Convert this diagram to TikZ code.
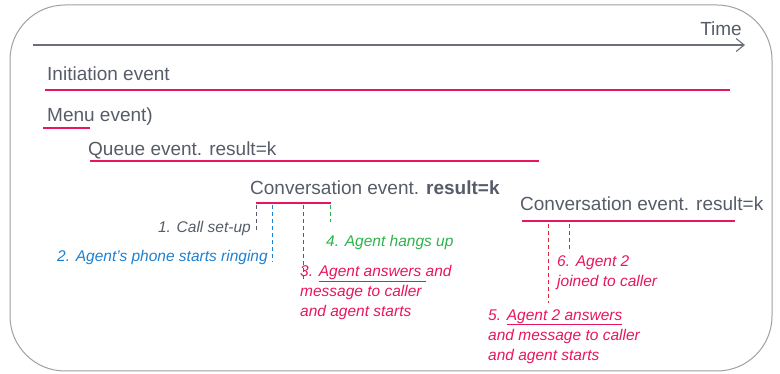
\documentclass[tikz,border=0pt]{standalone}
\usepackage{fontspec}
\setmainfont{Liberation Sans}
\usetikzlibrary{arrows.meta}
\definecolor{txtgray}{HTML}{565C68}
\definecolor{pinkc}{HTML}{E8175D}
\definecolor{bluec}{HTML}{1F80D0}
\definecolor{greenc}{HTML}{2DB34A}
\definecolor{redc}{HTML}{E2203F}
\definecolor{framec}{HTML}{A0A0A0}
\definecolor{axisc}{HTML}{6B6F78}
\begin{document}
\begin{tikzpicture}[x=1pt,y=-1pt,
  lbl/.style={anchor=west, inner sep=0pt, text=txtgray, font=\fontsize{19}{22}\selectfont},
  note/.style={inner sep=0pt, align=left, font=\fontsize{15.5}{20}\selectfont\itshape},
  evline/.style={draw=pinkc, line width=2pt},
  tick/.style={dash pattern=on 4pt off 3pt, line width=0.9pt}]
\useasboundingbox (0,0) rectangle (780,374);
\draw[draw=framec, line width=1pt, rounded corners=55pt] (10,5) rectangle (772,371);
% time axis
\coordinate (ta) at (33,45);
\coordinate (tb) at (745,45);
\draw[draw=axisc, line width=1.1pt, -{Straight Barb[length=8pt,width=13pt]}] (ta) -- (tb);
\node[lbl, anchor=east] (time) at (742,29) {Time};
% events
\node[lbl] (init) at (47,74) {Initiation event};
\coordinate (i0) at (45,90); \coordinate (i1) at (730,90);
\draw[evline] (i0) -- (i1);
\node[lbl] (menu) at (47,117) {Menu event)};
\coordinate (m0) at (43,128); \coordinate (m1) at (90,128);
\draw[evline] (m0) -- (m1);
\node[lbl] (queue) at (88,150) {Queue event. result=k};
\coordinate (q0) at (90,161); \coordinate (q1) at (539,161);
\draw[evline] (q0) -- (q1);
\node[lbl] (conv1) at (250,188) {Conversation event. \textbf{result=k}};
\coordinate (c0) at (256,203); \coordinate (c1) at (331,203);
\draw[evline] (c0) -- (c1);
\node[lbl] (conv2) at (520,204) {Conversation event. result=k};
\coordinate (d0) at (522,221); \coordinate (d1) at (735,221);
\draw[evline] (d0) -- (d1);
% ticks of first conversation
\coordinate (g0) at (256,205); \coordinate (g1) at (256,232);
\draw[tick, draw=txtgray] (g0) -- (g1);
\coordinate (b0) at (272,205); \coordinate (b1) at (272,262);
\draw[tick, draw=bluec] (b0) -- (b1);
\coordinate (r0) at (303,205); \coordinate (r1) at (303,282);
\draw[tick, draw=redc] (r0) -- (r1);
\coordinate (e0) at (330,205); \coordinate (e1) at (330,222);
\draw[tick, draw=greenc] (e0) -- (e1);
% ticks of second conversation
\coordinate (s0) at (548,224); \coordinate (s1) at (548,303);
\draw[tick, draw=redc] (s0) -- (s1);
\coordinate (u0) at (569,224); \coordinate (u1) at (569,252);
\draw[tick, draw=redc] (u0) -- (u1);
% notes
\node[note, anchor=east, text=txtgray] (n1) at (251,228) {1. Call set-up};
\node[note, anchor=west, text=bluec] (n2) at (57,257) {2. Agent’s phone starts ringing};
\node[note, anchor=west, text=greenc] (n4) at (326,242) {4. Agent hangs up};
\node[note, anchor=north west, text=pinkc] (n3) at (300,265) {3. \underline{Agent answers\ }and\\message to caller\\and agent starts};
\node[note, anchor=north west, text=pinkc] (n6) at (557,255) {6. Agent 2\\joined to caller};
\node[note, anchor=north west, text=pinkc] (n5) at (488,309) {5. \underline{Agent 2 answers}\\and message to caller\\and agent starts};
\end{tikzpicture}
\end{document}
